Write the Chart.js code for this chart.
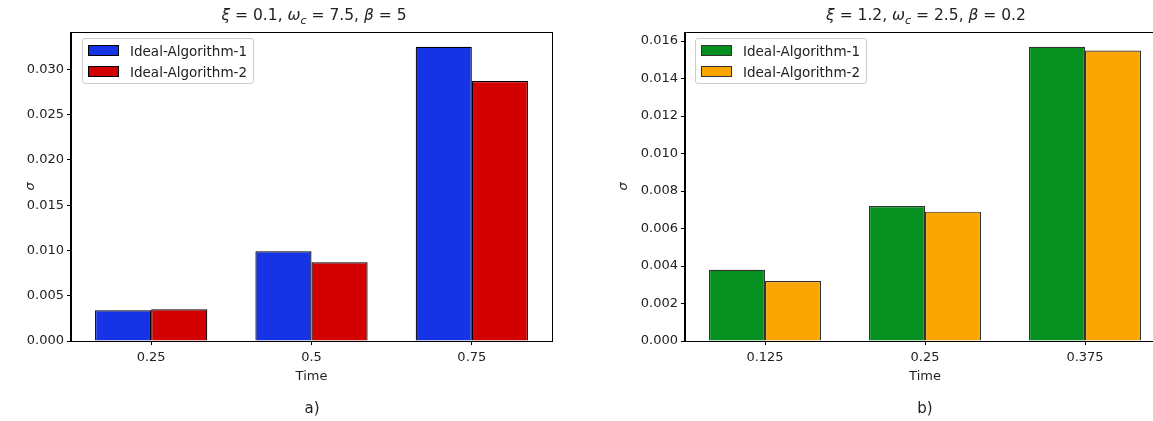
<!DOCTYPE html>
<html>
<head>
<meta charset="utf-8">
<script src="https://cdn.jsdelivr.net/npm/chart.js@4/dist/chart.umd.min.js"></script>
<style>
  body { margin: 0; width: 1153px; height: 421px; overflow: hidden; background: #fff; position: relative;
         font-family: "DejaVu Sans", sans-serif; color: #222; }
  .box { position: absolute; top: 0; height: 421px; }
  .title { position: absolute; top: 6px; font-size: 15.5px; white-space: nowrap; transform: translateX(-50%); }
  .title i { font-style: italic; }
  .cap { position: absolute; top: 399px; font-size: 15px; transform: translateX(-50%); }
  .legend { position: absolute; top: 38px; border: 1px solid #ccc; border-radius: 3px; background: rgba(255,255,255,0.85);
            padding: 1px 6px 1px 5px; font-size: 13.5px; }
  .legend .row { display: flex; align-items: center; height: 21px; }
  .legend .sw { width: 31px; height: 11px; border: 1px solid #000; box-sizing: border-box; margin-right: 11px; }
</style>
</head>
<body>
<div class="box" style="left:0;width:560px"><canvas id="chartA"></canvas></div>
<div class="box" style="left:600px;width:600px"><canvas id="chartB"></canvas></div>

<div class="title" style="left:314px"><i>ξ</i> = 0.1, <i>ω<sub style="font-size:11px">c</sub></i> = 7.5, <i>β</i> = 5</div>
<div class="title" style="left:926px"><i>ξ</i> = 1.2, <i>ω<sub style="font-size:11px">c</sub></i> = 2.5, <i>β</i> = 0.2</div>
<div class="cap" style="left:312px">a)</div>
<div class="cap" style="left:925px">b)</div>
<div class="legend" id="legA" style="left:82px"></div>
<div class="legend" id="legB" style="left:695px"></div>

<script>
const seriesNames = ['Ideal-Algorithm-1', 'Ideal-Algorithm-2'];

// panel a)
const timesA = ['0.25', '0.5', '0.75'];
const alg1A = [0.0034, 0.0099, 0.0325];
const alg2A = [0.0035, 0.0087, 0.0287];
const ticksA = [0, 0.005, 0.010, 0.015, 0.020, 0.025, 0.030];
const colorsA = ['#1733e6', '#d20000'];

// panel b)
const timesB = ['0.125', '0.25', '0.375'];
const alg1B = [0.0038, 0.0072, 0.0157];
const alg2B = [0.0032, 0.0069, 0.0155];
const ticksB = [0, 0.002, 0.004, 0.006, 0.008, 0.010, 0.012, 0.014, 0.016];
const colorsB = ['#05901f', '#faa500'];

const tickFont = { family: 'DejaVu Sans', size: 13 };

// top and right spines
const frame = {
    id: 'frame',
    afterDraw(chart) {
        const { ctx, chartArea: a } = chart;
        ctx.save();
        ctx.strokeStyle = '#000';
        ctx.lineWidth = 1;
        ctx.strokeRect(Math.round(a.left) - 0.5, Math.round(a.top) + 0.5,
                       Math.round(a.right - a.left) + 1, Math.round(a.bottom - a.top));
        ctx.restore();
    }
};

function makeChart(id, labels, d1, d2, colors, edge, ticks, pad, yWidth) {
    const ctx = document.getElementById(id).getContext('2d');
    return new Chart(ctx, {
        type: 'bar',
        data: {
            labels: labels,
            datasets: [d1, d2].map((d, i) => ({
                label: seriesNames[i],
                data: d,
                backgroundColor: colors[i],
                borderColor: edge,
                borderWidth: 1.2,
                categoryPercentage: 0.7,
                barPercentage: 1.0
            }))
        },
        plugins: [frame],
        options: {
            responsive: true,
            maintainAspectRatio: false,
            animation: false,
            layout: { padding: pad },
            plugins: {
                legend: { display: false },
                tooltip: { enabled: false }
            },
            scales: {
                x: {
                    grid: { display: true, drawOnChartArea: false, offset: false, tickLength: 4, color: '#000' },
                    border: { display: true, color: '#000', width: 1 },
                    ticks: { color: '#222', font: tickFont, padding: 5 },
                    title: { display: true, text: 'Time', color: '#222', font: tickFont, padding: 3 },
                    afterFit: s => { s.height = 46; }
                },
                y: {
                    min: 0,
                    max: Math.max(...d1, ...d2) * 1.05,
                    grid: { display: true, drawOnChartArea: false, tickLength: 4, color: '#000' },
                    border: { display: true, color: '#000', width: 1 },
                    afterBuildTicks: s => { s.ticks = ticks.map(v => ({ value: v })); },
                    ticks: {
                        color: '#222', font: tickFont, padding: 3,
                        callback: v => v.toFixed(3)
                    },
                    title: { display: true, text: 'σ', color: '#222', font: { family: 'DejaVu Sans', size: 13, style: 'italic' }, padding: 4 },
                    afterFit: s => { s.width = yWidth; }
                }
            }
        }
    });
}

makeChart('chartA', timesA, alg1A, alg2A, colorsA, '#000', ticksA,
          { left: 19, right: 8, top: 32, bottom: 34 }, 52);
makeChart('chartB', timesB, alg1B, alg2B, colorsB, '#333', ticksB,
          { left: 12, right: 35, top: 32, bottom: 34 }, 73);

// legends from the series names and colours
function fillLegend(id, colors, edge) {
    const el = document.getElementById(id);
    seriesNames.forEach((name, i) => {
        const row = document.createElement('div');
        row.className = 'row';
        row.innerHTML = '<span class="sw" style="background:' + colors[i] + ';border-color:' + edge + '"></span>' + name;
        el.appendChild(row);
    });
}
fillLegend('legA', colorsA, '#000');
fillLegend('legB', colorsB, '#333');
</script>
</body>
</html>
